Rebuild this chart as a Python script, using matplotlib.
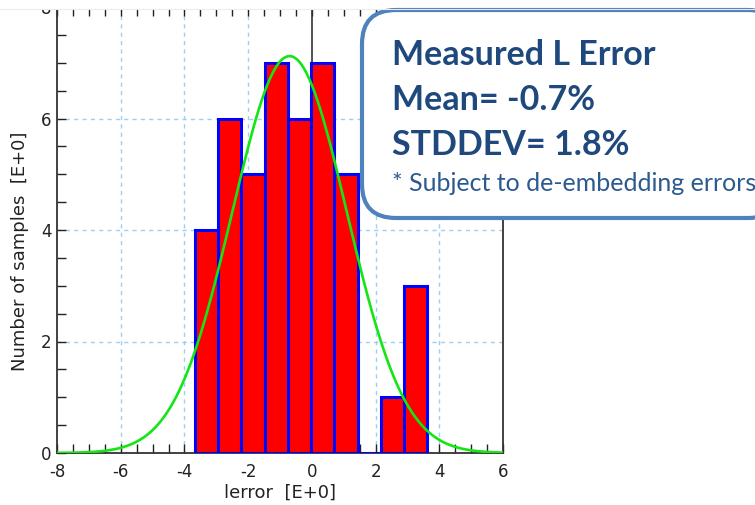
import matplotlib.pyplot as plt
import numpy as np
from matplotlib.patches import FancyBboxPatch, Rectangle
from matplotlib.ticker import MultipleLocator

# histogram des erreurs
bin_edges = [-3.67, -2.94, -2.21, -1.48, -0.75, -0.02, 0.71, 1.44, 2.17, 2.90, 3.63]
counts = [4, 6, 5, 7, 6, 7, 5, 0, 1, 3]
mean_err = -0.7
std_err = 1.8
box_lines = ["Measured L Error", "Mean= -0.7%", "STDDEV= 1.8%"]
box_note = "* Subject to de-embedding errors"

plt.rcParams['axes.unicode_minus'] = False

W, H = 755, 505
fig = plt.figure(figsize=(W / 100, H / 100), dpi=100)
ax = fig.add_axes([57 / W, 1 - 453 / H, 446 / W, 446 / H])

lefts = np.array(bin_edges[:-1])
widths = np.diff(bin_edges)
ax.bar(lefts, counts, width=widths, align='edge', color='#ff0000',
       edgecolor='#0000ff', linewidth=2.2, zorder=3)

# courbe normale ajustee
n_total = sum(counts)
bw = np.mean(widths)
xs = np.linspace(-8, 6, 300)
ys = n_total * bw / (np.sqrt(2 * np.pi) * std_err) * np.exp(-0.5 * ((xs - mean_err) / std_err) ** 2)
ax.plot(xs, ys, color='#14e614', linewidth=1.9, zorder=4)

ax.set_xlim(-8, 6)
ax.set_ylim(0, 8)
ax.xaxis.set_major_locator(MultipleLocator(2))
ax.xaxis.set_minor_locator(MultipleLocator(0.5))
ax.yaxis.set_major_locator(MultipleLocator(2))
ax.yaxis.set_minor_locator(MultipleLocator(0.5))
ax.tick_params(which='both', direction='in', top=True, right=False,
               length=6.5, width=1, color='#222222', labelsize=12,
               labelcolor='#222222')
ax.tick_params(axis='x', which='both', pad=7)
ax.tick_params(axis='y', which='both', pad=4)

for xv in [-6, -4, -2, 2, 4]:
    ax.axvline(xv, color='#99d0f5', linewidth=1, linestyle=(0, (3, 3)), zorder=1)
for yv in [2, 4, 6]:
    ax.axhline(yv, color='#99d0f5', linewidth=1, linestyle=(0, (3, 3)), zorder=1)
ax.axvline(0, color='#333333', linewidth=1.2, zorder=2)

for side in ['left', 'bottom', 'right']:
    ax.spines[side].set_color('#333333')
    ax.spines[side].set_linewidth(1.3)
ax.spines['top'].set_color('#e6e6e6')

ax.set_xlabel('lerror  [E+0]', fontsize=13, color='#222222', labelpad=2)
ax.set_ylabel('Number of samples  [E+0]', fontsize=13, color='#222222')
ax.yaxis.set_label_coords(-0.063, 0.452)

# encadre de texte en coordonnees pixels
ov = fig.add_axes([0, 0, 1, 1], zorder=10)
ov.set_xlim(0, W)
ov.set_ylim(H, 0)
ov.axis('off')
# bord haut de l'image rogne
ov.add_patch(Rectangle((0, 0), W, 8.5, facecolor='white', edgecolor='none'))
ov.plot([0, W], [8.5, 8.5], color='#ececec', linewidth=0.8)
box = FancyBboxPatch((362, 10), 420, 208, boxstyle='round,pad=0,rounding_size=34',
                     facecolor='white', edgecolor='#4f81bd', linewidth=3)
ov.add_patch(box)
for i, txt in enumerate(box_lines):
    ov.text(392, 65 + 45 * i, txt, fontsize=24.5, fontweight='bold', family='Lato',
            color='#1f497d', va='baseline', ha='left')
ov.text(392, 191, box_note, fontsize=18, family='Lato', color='#2b5a8f',
        va='baseline', ha='left')

plt.savefig('out.png', dpi=100, facecolor='white')
plt.close()
